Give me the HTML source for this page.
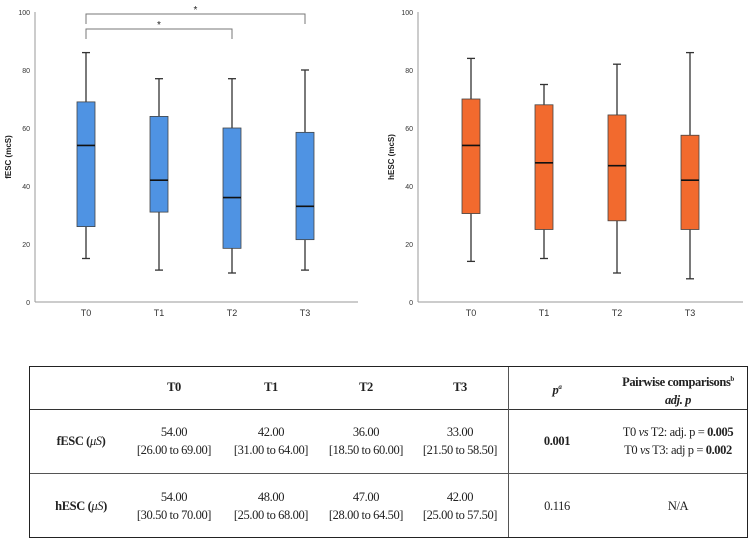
<!DOCTYPE html>
<html><head><meta charset="utf-8"><style>
body{margin:0;background:#fff;width:755px;height:546px;position:relative;overflow:hidden;font-family:"Liberation Sans",sans-serif}
svg{position:absolute;left:0;top:0}
.tbl{position:absolute;left:29px;top:366px;width:719px;height:172px;border:1.5px solid #222;box-sizing:border-box;font-family:"Liberation Serif",serif;font-size:12.5px;color:#222;letter-spacing:-0.4px}
.c{position:absolute;text-align:center;transform:translateX(-50%);white-space:nowrap;line-height:18px}
</style></head><body>
<svg width="755" height="360">
<g id="left"></g>
<g id="right"></g>
</svg>
<div class="tbl">
<div style="position:absolute;left:0;right:0;top:42px;border-top:1.2px solid #333"></div>
<div style="position:absolute;left:0;right:0;top:106px;border-top:1px solid #555"></div>
<div style="position:absolute;left:478px;top:0;bottom:0;border-left:1px solid #555"></div>
<div class="c" style="left:144px;top:11px;font-weight:bold">T0</div>
<div class="c" style="left:241px;top:11px;font-weight:bold">T1</div>
<div class="c" style="left:336px;top:11px;font-weight:bold">T2</div>
<div class="c" style="left:430px;top:11px;font-weight:bold">T3</div>
<div class="c" style="left:527px;top:11px;font-weight:bold;font-style:italic">p<sup style="font-size:7px">a</sup></div>
<div class="c" style="left:648px;top:3px;font-weight:bold">Pairwise comparisons<sup style="font-size:7px">b</sup><br><i>adj. p</i></div>
<div class="c" style="left:51px;top:65px;font-weight:bold">fESC (<i style="font-weight:normal">μS</i>)</div>
<div class="c" style="left:144px;top:56px">54.00<br>[26.00 to 69.00]</div>
<div class="c" style="left:241px;top:56px">42.00<br>[31.00 to 64.00]</div>
<div class="c" style="left:336px;top:56px">36.00<br>[18.50 to 60.00]</div>
<div class="c" style="left:430px;top:56px">33.00<br>[21.50 to 58.50]</div>
<div class="c" style="left:527px;top:65px;font-weight:bold">0.001</div>
<div class="c" style="left:648px;top:56px">T0 <i>vs</i> T2: adj. p = <b>0.005</b><br>T0 <i>vs</i> T3: adj p = <b>0.002</b></div>
<div class="c" style="left:51px;top:130px;font-weight:bold">hESC (<i style="font-weight:normal">μS</i>)</div>
<div class="c" style="left:144px;top:121px">54.00<br>[30.50 to 70.00]</div>
<div class="c" style="left:241px;top:121px">48.00<br>[25.00 to 68.00]</div>
<div class="c" style="left:336px;top:121px">47.00<br>[28.00 to 64.50]</div>
<div class="c" style="left:430px;top:121px">42.00<br>[25.00 to 57.50]</div>
<div class="c" style="left:527px;top:130px">0.116</div>
<div class="c" style="left:648px;top:130px">N/A</div>
</div>
<script>
const categories=["T0","T1","T2","T3"];
const yTicks=[0,20,40,60,80,100];
const fMin=[15,11,10,11], fQ1=[26,31,18.5,21.5], fMed=[54,42,36,33], fQ3=[69,64,60,58.5], fMax=[86,77,77,80];
const hMin=[14,15,10,8], hQ1=[30.5,25,28,25], hMed=[54,48,47,42], hQ3=[70,68,64.5,57.5], hMax=[84,75,82,86];
const NS="http://www.w3.org/2000/svg";
function mk(p,t,a){const e=document.createElementNS(NS,t);for(const k in a)e.setAttribute(k,a[k]);p.appendChild(e);return e;}
function boxes(g,ax,x0,x1,title,mn,q1,md,q3,mx,color){
  const y=v=>302-v*2.9;
  const xf=i=>x0+51+i*73;
  mk(g,'line',{x1:ax,y1:12,x2:ax,y2:302,stroke:'#999'});
  mk(g,'line',{x1:ax,y1:302,x2:x1,y2:302,stroke:'#999'});
  yTicks.forEach(t=>{const e=mk(g,'text',{x:ax-5,y:y(t)+3,'text-anchor':'end','font-size':7,fill:'#333'});e.textContent=t;
    
    });
  const tt=mk(g,'text',{transform:`translate(${ax-24},${y(50)}) rotate(-90)`,'text-anchor':'middle','font-size':8,'font-weight':'bold',fill:'#222'});tt.textContent=title;
  
  
  categories.forEach((c,i)=>{
    const cx=xf(i);
    const l=mk(g,'text',{x:cx,y:316,'text-anchor':'middle','font-size':9,fill:'#333'});l.textContent=c;
    
    
    const b=mk(g,'g',{});
    
    
    mk(b,'line',{x1:cx,y1:y(mx[i]),x2:cx,y2:y(mn[i]),stroke:'#333','stroke-width':1.3});
    mk(b,'line',{x1:cx-4,y1:y(mx[i]),x2:cx+4,y2:y(mx[i]),stroke:'#333','stroke-width':1.3});
    mk(b,'line',{x1:cx-4,y1:y(mn[i]),x2:cx+4,y2:y(mn[i]),stroke:'#333','stroke-width':1.3});
    mk(b,'rect',{x:cx-9,y:y(q3[i]),width:18,height:y(q1[i])-y(q3[i]),fill:color,stroke:'#444','stroke-width':0.8});
    mk(b,'line',{x1:cx-9,y1:y(md[i]),x2:cx+9,y2:y(md[i]),stroke:'#111','stroke-width':1.6});
  });
  return xf;
}
const L=document.getElementById('left'), R=document.getElementById('right');
const xl=boxes(L,35,35,358,'fESC (mcS)',fMin,fQ1,fMed,fQ3,fMax,'#4f93e3');
boxes(R,418,420,743,'hESC (mcS)',hMin,hQ1,hMed,hQ3,hMax,'#f26a2e');
function bracket(a,b,top,bot){
  const p=mk(L,'path',{d:`M${xl(a)},${bot} V${top} H${xl(b)} V${bot}`,fill:'none',stroke:'#777','stroke-width':1});
  
  
  const s=mk(L,'text',{x:(xl(a)+xl(b))/2,y:top-1,'text-anchor':'middle','font-size':10,fill:'#222'});s.textContent='*';
  
  
}
bracket(0,3,14,24);bracket(0,2,29,39);
</script>
</body></html>
